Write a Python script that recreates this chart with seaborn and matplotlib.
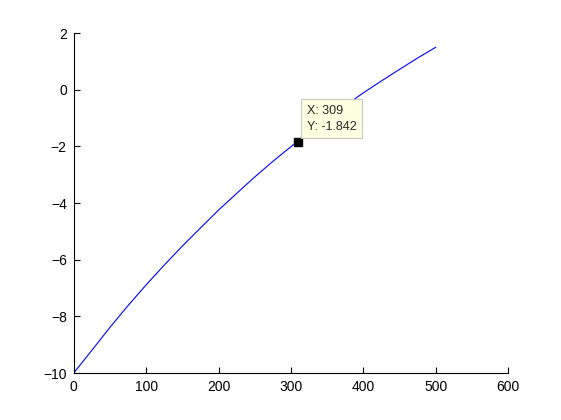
import matplotlib
matplotlib.use("Agg")
import matplotlib.pyplot as plt
import seaborn as sns
import pandas as pd

# values
x_vals = [0, 25, 50, 75, 100, 125, 150, 175, 200, 225, 250,
          275, 300, 325, 350, 375, 400, 425, 450, 475, 500]
y_vals = [-10.00, -9.20, -8.39, -7.62, -6.89, -6.19, -5.52, -4.88, -4.25, -3.66, -3.08,
          -2.53, -2.01, -1.51, -1.03, -0.56, -0.11, 0.31, 0.72, 1.12, 1.50]
tip_x = 309
tip_y = -1.842
x_ticks = [0, 100, 200, 300, 400, 500, 600]
y_ticks = [-10, -8, -6, -4, -2, 0, 2]

sns.set_style("ticks")
plt.rcParams['font.family'] = ['Liberation Sans', 'DejaVu Sans']

df = pd.DataFrame({'x': x_vals, 'y': y_vals})

fig = plt.figure(figsize=(5.61, 4.2), dpi=100)
ax = fig.add_axes([0.1314, 0.1119, 0.7746, 0.8095])
sns.lineplot(data=df, x='x', y='y', ax=ax, color='#0000ff', linewidth=0.8, zorder=2)

# data cursor
ax.plot([tip_x], [tip_y], marker='s', markersize=6, color='black', zorder=4)
ax.annotate(f"X: {tip_x}\nY: {tip_y}", xy=(tip_x, tip_y), xytext=(6.5, 6.5),
            textcoords='offset points', fontsize=9, ha='left', va='bottom',
            linespacing=1.45, zorder=5,
            bbox=dict(boxstyle='square,pad=0.45', fc='#ffffe1', ec='#c8c8c0', lw=0.8))

ax.set_xlim(0, 600)
ax.set_ylim(-10, 2)
ax.set_xticks(x_ticks)
ax.set_yticks(y_ticks)
ax.set_xlabel('')
ax.set_ylabel('')
ax.tick_params(direction='in', length=4, width=0.8, labelsize=10, colors='black', pad=5)
for side in ['top', 'right']:
    ax.spines[side].set_visible(False)
for side in ['left', 'bottom']:
    ax.spines[side].set_linewidth(0.8)
    ax.spines[side].set_color('black')

fig.savefig('out.png', dpi=100, facecolor='white')
